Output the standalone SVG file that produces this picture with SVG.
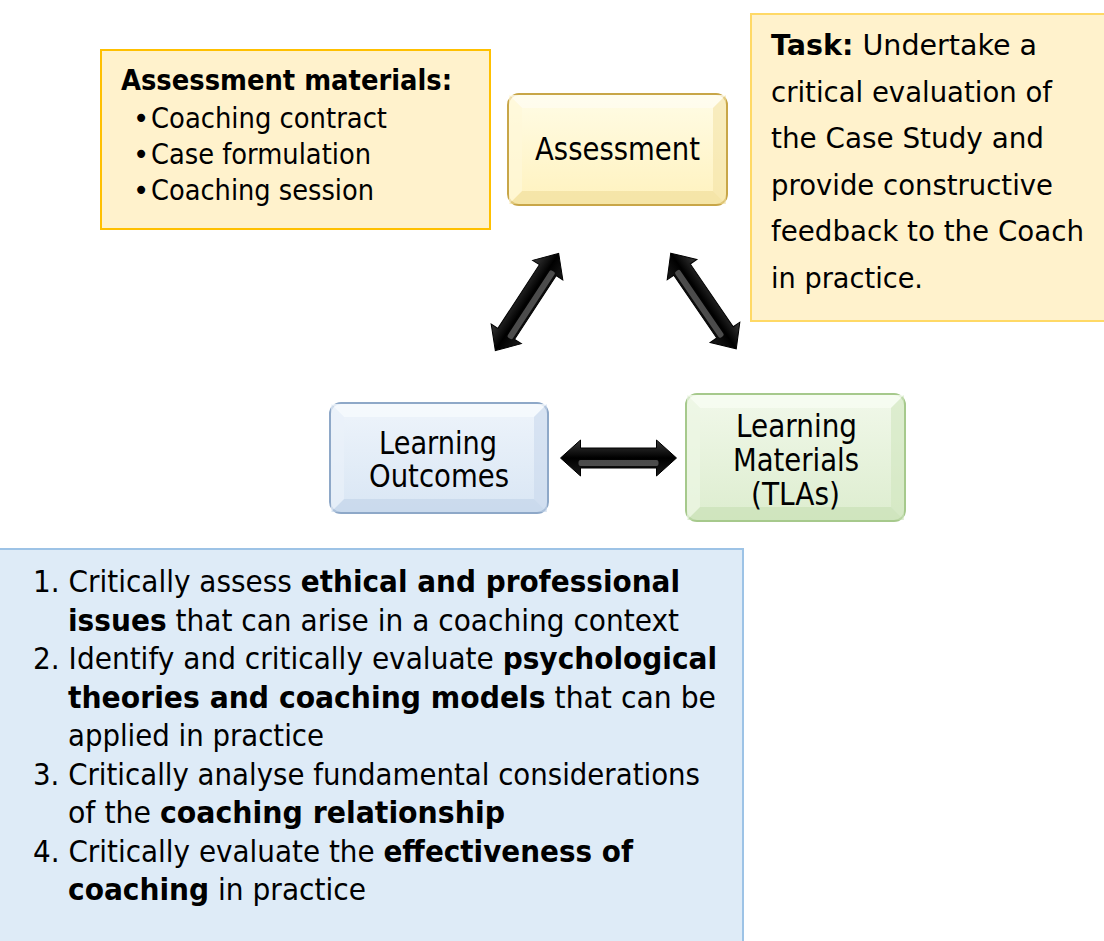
<svg xmlns="http://www.w3.org/2000/svg" width="1104" height="941" viewBox="0 0 1104 941">
<defs>
<style>
text{font-family:"DejaVu Sans","Liberation Sans",sans-serif;fill:#000}
.b{font-weight:bold}
.t27{font-size:27.5px}
.t28{font-size:28.5px}
.t30{font-size:30px}
.n{font-size:32px;text-anchor:middle}
</style>
<linearGradient id="ag" x1="0" y1="0" x2="0" y2="1">
<stop offset="0" stop-color="#3a3a3a"/>
<stop offset="0.5" stop-color="#000"/>
<stop offset="1" stop-color="#1a1a1a"/>
</linearGradient>
<linearGradient id="gy" x1="0" y1="0" x2="0" y2="1">
<stop offset="0" stop-color="#FFFCE6"/>
<stop offset="1" stop-color="#FFF2BE"/>
</linearGradient>
<linearGradient id="gb" x1="0" y1="0" x2="0" y2="1">
<stop offset="0" stop-color="#EEF4FB"/>
<stop offset="1" stop-color="#D9E6F4"/>
</linearGradient>
<linearGradient id="gg" x1="0" y1="0" x2="0" y2="1">
<stop offset="0" stop-color="#F1F8EA"/>
<stop offset="1" stop-color="#DDEDCF"/>
</linearGradient>
<g id="dblarrow">
<path d="M-58,0 L-38,-18 L-38,-10 L38,-10 L38,-18 L58,0 L38,18 L38,10 L-38,10 L-38,18 Z" fill="url(#ag)" stroke="#000" stroke-width="1"/>
<rect x="-40" y="2" width="80" height="6" rx="2" fill="#6a6a6a" opacity="0.7"/>
</g>
</defs>
<rect width="1104" height="941" fill="#fff"/>

<g id="assessment-materials">
<rect x="101" y="50" width="389" height="179" fill="#FFF2CC" stroke="#FFC000" stroke-width="2"/>
<text class="t27 b" x="121" y="90" textLength="331" lengthAdjust="spacingAndGlyphs">Assessment materials:</text>
<text class="t27" x="133" y="128">•</text>
<text class="t27" x="151" y="128" textLength="236" lengthAdjust="spacingAndGlyphs">Coaching contract</text>
<text class="t27" x="133" y="164">•</text>
<text class="t27" x="151" y="164" textLength="220" lengthAdjust="spacingAndGlyphs">Case formulation</text>
<text class="t27" x="133" y="200">•</text>
<text class="t27" x="151" y="200" textLength="223" lengthAdjust="spacingAndGlyphs">Coaching session</text>
</g>

<g id="task">
<rect x="751" y="14" width="360" height="307" fill="#FFF2CC" stroke="#FFD966" stroke-width="2"/>
<text class="t28" x="771" y="55" textLength="266" lengthAdjust="spacingAndGlyphs"><tspan class="b">Task:</tspan> Undertake a</text>
<text class="t28" x="771" y="101.5" textLength="281" lengthAdjust="spacingAndGlyphs">critical evaluation of</text>
<text class="t28" x="771" y="148" textLength="273" lengthAdjust="spacingAndGlyphs">the Case Study and</text>
<text class="t28" x="771" y="194.5" textLength="282" lengthAdjust="spacingAndGlyphs">provide constructive</text>
<text class="t28" x="771" y="241" textLength="313" lengthAdjust="spacingAndGlyphs">feedback to the Coach</text>
<text class="t28" x="771" y="287.5" textLength="152" lengthAdjust="spacingAndGlyphs">in practice.</text>
</g>

<g id="assessment">
<rect x="508" y="94" width="219" height="111" rx="11" fill="url(#gy)" stroke="#C8A648" stroke-width="2"/>
<path d="M509,95 L522,108 L713,108 L726,95 Z" fill="#FFFDF0" opacity="0.8"/>
<path d="M509,204 L522,191 L713,191 L726,204 Z" fill="#EFDC98" opacity="0.6"/>
<path d="M509,95 L522,108 L522,191 L509,204 Z" fill="#FFF8D8" opacity="0.7"/>
<path d="M726,95 L713,108 L713,191 L726,204 Z" fill="#F3E2A6" opacity="0.6"/>
<text class="n" x="617.5" y="160" textLength="165" lengthAdjust="spacingAndGlyphs">Assessment</text>
</g>

<g id="learning-outcomes">
<rect x="330" y="403" width="218" height="110" rx="11" fill="url(#gb)" stroke="#8EA8C8" stroke-width="2"/>
<path d="M331,404 L344,417 L534,417 L547,404 Z" fill="#F6FAFE" opacity="0.8"/>
<path d="M331,512 L344,499 L534,499 L547,512 Z" fill="#BFD2E8" opacity="0.6"/>
<path d="M331,404 L344,417 L344,499 L331,512 Z" fill="#EAF1F9" opacity="0.7"/>
<path d="M547,404 L534,417 L534,499 L547,512 Z" fill="#C9D9EC" opacity="0.6"/>
<text class="n" x="438" y="454" textLength="118" lengthAdjust="spacingAndGlyphs">Learning</text>
<text class="n" x="439" y="487" textLength="140" lengthAdjust="spacingAndGlyphs">Outcomes</text>
</g>

<g id="learning-materials">
<rect x="686" y="394" width="219" height="127" rx="11" fill="url(#gg)" stroke="#A6C98C" stroke-width="2"/>
<path d="M687,395 L700,408 L891,408 L904,395 Z" fill="#F8FCF3" opacity="0.8"/>
<path d="M687,520 L700,507 L891,507 L904,520 Z" fill="#C7E0B2" opacity="0.6"/>
<path d="M687,395 L700,408 L700,507 L687,520 Z" fill="#EDF6E4" opacity="0.7"/>
<path d="M904,395 L891,408 L891,507 L904,520 Z" fill="#D0E6BE" opacity="0.6"/>
<text class="n" x="796.5" y="437" textLength="121" lengthAdjust="spacingAndGlyphs">Learning</text>
<text class="n" x="796" y="471" textLength="126" lengthAdjust="spacingAndGlyphs">Materials</text>
<text class="n" x="795.5" y="505" textLength="89" lengthAdjust="spacingAndGlyphs">(TLAs)</text>
</g>

<g id="connectors">
<use href="#dblarrow" transform="translate(527,302) rotate(-56.9)"/>
<use href="#dblarrow" transform="translate(703.5,301) rotate(55.6)"/>
<use href="#dblarrow" transform="translate(618.5,458)"/>
</g>

<g id="outcomes-list">
<rect x="-2" y="549" width="745" height="400" fill="#DEEBF7" stroke="#9DC3E6" stroke-width="2"/>
<text class="t30" x="33" y="592" textLength="647" lengthAdjust="spacingAndGlyphs">1. Critically assess <tspan class="b">ethical and professional</tspan></text>
<text class="t30" x="68" y="630.5" textLength="611" lengthAdjust="spacingAndGlyphs"><tspan class="b">issues</tspan> that can arise in a coaching context</text>
<text class="t30" x="33" y="669" textLength="684" lengthAdjust="spacingAndGlyphs">2. Identify and critically evaluate <tspan class="b">psychological</tspan></text>
<text class="t30" x="68" y="707.5" textLength="648" lengthAdjust="spacingAndGlyphs"><tspan class="b">theories and coaching models</tspan> that can be</text>
<text class="t30" x="68" y="746" textLength="256" lengthAdjust="spacingAndGlyphs">applied in practice</text>
<text class="t30" x="33" y="784.5" textLength="667" lengthAdjust="spacingAndGlyphs">3. Critically analyse fundamental considerations</text>
<text class="t30" x="68" y="823" textLength="437" lengthAdjust="spacingAndGlyphs">of the <tspan class="b">coaching relationship</tspan></text>
<text class="t30" x="33" y="861.5" textLength="600" lengthAdjust="spacingAndGlyphs">4. Critically evaluate the <tspan class="b">effectiveness of</tspan></text>
<text class="t30" x="68" y="900" textLength="298" lengthAdjust="spacingAndGlyphs"><tspan class="b">coaching</tspan> in practice</text>
</g>
</svg>
